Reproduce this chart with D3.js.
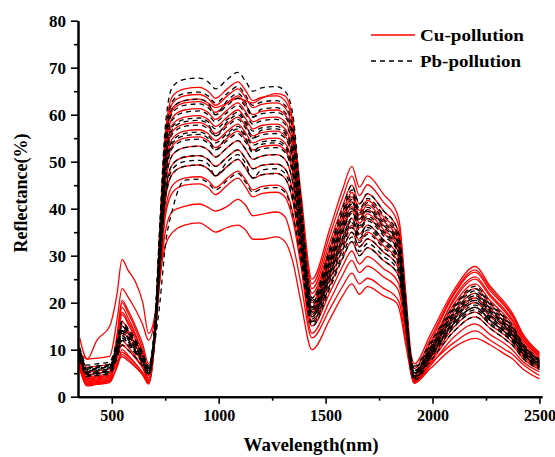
<!DOCTYPE html>
<html><head><meta charset="utf-8">
<script src="https://cdn.jsdelivr.net/npm/d3@7"></script>
<style>
body{margin:0;background:#fff}
svg{display:block}
text{font-family:"Liberation Serif","Times New Roman",serif;font-weight:bold;fill:#000}
</style>
</head><body>
<svg id="chart" width="555" height="457"></svg>
<script>
// Wavelength knots (nm)
const wavelengths = [350,385,430,490,525,548,575,610,645,672,700,725,750,785,840,910,950,985,1040,1090,1125,1160,1200,1270,1310,1345,1385,1436,1520,1580,1623,1658,1696,1770,1833,1845,1875,1900,1915,1990,2100,2200,2270,2340,2375,2420,2500];

// Cu-pollution reflectance spectra (%)
const cuSpectra = [
 [12.5,8,12,15,22,29.2,27,24.5,20,13.5,17,26,32,35,36.5,37,36,35,36,36.5,35.5,33.5,33.5,34,33,29,20,10,16.5,21.5,24,21.8,23.4,21.5,19.9,18.5,11,5,3,6,10.5,12.4,11,9,8,6,3.8],
 [9.5,8,8.2,8.6,16.5,23,21.3,18.6,15.3,12,16,25,35,39.5,40.5,41,40.3,39.5,40.5,42,40.8,38.5,38.8,39.3,38.3,33,24,12.5,18.7,23.5,26.3,24,25.2,23.1,21,20,12,6,3.5,7,11.5,14,12,10,9,7,4.5],
 [8,4.2,4.5,4.9,13.3,20.5,18.5,15.1,11.1,7,12.7,24.8,38.3,43.5,45,45.3,44.5,43,45,46.5,44.7,42.5,43.2,43.5,42.5,38,27.7,13.5,20.5,25.9,29,26.4,27.8,25.5,23.2,22,13.1,4.8,2.8,6.6,12.7,15.5,13.2,11.2,9.9,7.6,5.3],
 [7,3.2,3.5,3.9,12.6,20,17.9,14.4,10.2,6,12.1,25.6,39.5,45,46.5,46.8,46,44.5,46.5,48,46.2,44,44.7,45,44,39.5,29.2,15,22.2,27.8,31,28.2,29.8,27.3,24.8,23.6,14,5,3,7.2,13.9,17,14.5,12.2,10.9,8.3,5.8],
 [6.5,2.9,3.2,3.6,11.9,19,16.9,13.4,9.2,5,11.6,27,41.7,47.5,49,49.3,48.5,47,49,50.5,48.7,46.5,47.2,47.5,46.5,42,30.9,16,23.7,29.6,33,30,31.7,29,26.4,25.1,14.9,5.2,3.2,7.6,14.8,18,15.3,13,11.5,8.8,6.1],
 [7.5,3.7,4,4.4,11.7,18,16.1,13,9.3,5.5,12.3,28.1,43.4,49.5,51,51.3,50.5,49,51,52.5,50.7,48.5,49.2,49.5,48.5,44,32.3,17,25.1,31.4,35,31.9,33.6,30.8,28,26.6,15.8,5.5,3.5,8.2,15.6,19,16.2,13.7,12.2,9.3,6.5],
 [6,2.5,2.8,3.2,10.9,17.5,15.6,12.3,8.4,4.5,11.8,29.2,45.1,51.5,53,53.3,52.5,51,53,54.5,52.7,50.5,51.2,51.5,50.5,46,33.5,17.5,26.1,32.7,36.5,33.2,35,32.1,29.2,27.7,16.4,5,3,8.1,16.4,20,17,14.4,12.8,9.8,6.8],
 [7,3.2,3.5,3.9,10.4,16,14.2,11.2,7.6,4,11.7,30.3,46.8,53.5,55,55.3,54.5,53,55,56.5,54.7,52.5,53.2,53.5,52.5,48,34.7,18,27,34,38,34.6,36.5,33.4,30.4,28.9,17.1,5.5,3.5,8.8,17.2,21,17.9,15.1,13.4,10.3,7.1],
 [8.5,4.7,5,5.4,10.5,15,13.5,11,8,5,12.7,31.1,48,55,56.5,56.8,56,54.5,56.5,58,56.2,54,54.7,55,54,49.5,35.6,18.5,28,35.3,39.5,35.9,37.9,34.8,31.6,30,17.8,6,4,9.4,18,22,18.7,15.8,14.1,10.8,7.5],
 [6.5,2.7,3,3.4,9.1,14,12.4,9.8,6.7,3.5,11.7,31.9,49.3,56.5,58,58.3,57.5,56,58,59.5,57.7,55.5,56.2,56.5,55.5,51,36.6,19,28.7,36.2,40.5,36.9,38.9,35.6,32.4,30.8,18.2,5.2,3.2,9.1,18.9,23,19.6,16.6,14.7,11.3,7.8],
 [7.5,3.5,3.8,4.2,8.3,12,10.7,8.6,6.1,3.5,11.9,32.7,50.6,58,59.5,59.8,59,57.5,59.5,61,59.2,57,57.7,58,57,52.5,37.8,20,29.7,37.2,41.5,37.8,39.8,36.5,33.2,31.5,18.7,5.8,3.8,9.9,19.7,24,20.4,17.3,15.4,11.8,8.2],
 [9,5.2,5.5,5.9,8.5,11,10,8.2,6.1,4,12.6,33.6,51.9,59.5,61,61.3,60.5,59,61,62.5,60.7,58.5,59.2,59.5,58.5,54,39,21,30.7,38.2,42.5,38.7,40.8,37.4,34,32.3,19.1,6.5,4.5,10.7,20.5,25,21.3,18,16,12.3,8.5],
 [6,2.3,2.6,3,6.7,10,8.9,7.1,5,2.8,11.8,34.4,53.1,61,62.5,62.8,62,60.5,62.5,64,62.2,60,60.7,61,60,55.5,40.2,22,31.7,39.2,43.5,39.6,41.8,38.3,34.8,33.1,19.6,5,3,9.8,20.9,25.5,21.7,18.4,16.3,12.5,8.7],
 [8,3.9,4.2,4.6,7.1,9.5,8.6,7,5.1,3.2,12.3,35.2,54.4,62.5,64,64.3,63.5,62,64,65.5,63.7,61.5,62.2,62.5,61.5,57,41.5,23,32.9,40.6,45,41,43.2,39.6,36,34.2,20.3,7,5,11.5,21.7,26.5,22.5,19.1,17,13,9],
 [7,2.7,3,3.4,6.3,9,8.1,6.5,4.6,2.7,11.7,34.7,53.6,61.5,63,63.3,62.5,61.5,62.5,63.5,63,62.5,63.5,64.5,64,59,41.6,24,34.4,42.4,47,42.8,45.1,41.4,37.6,35.7,21.2,8,6,12.3,22.1,27,23,19.4,17.3,13.2,9.2],
 [10,6.2,6.5,6.9,7.6,8.5,7.7,6.3,4.7,3,12.4,36,55.7,64,65.5,65.8,65,63.5,65.5,67,65.2,63,63.7,64,63,58.5,43.2,25,35.8,44.2,49,44.6,47,43.1,39.2,37.2,22,9,7,13.2,22.7,27.7,23.5,19.9,17.7,13.6,9.4]
];

// Pb-pollution reflectance spectra (%)
const pbSpectra = [
 [9,5.2,5.5,5.9,9.1,12,11,9.2,7.1,5,11.2,20,32,40,46,46.3,45.5,44,46,47.5,45.7,43.5,44.2,44.5,43.5,39,29,15,23.1,29.4,33,30,31.7,29,26.4,25.1,14.9,5.5,3.5,7.6,13.9,17,14.5,12.2,10.9,8.3,5.8],
 [10,5.7,6,6.4,10.4,14,12.7,10.6,8.1,5.5,12,27,41.7,47.5,49,49.3,48.5,47,49,50.5,48.7,46.5,47.2,47.5,46.5,42,30.9,16,24.6,31.2,35,31.9,33.6,30.8,28,26.6,15.8,6,4,8.2,14.8,18,15.3,13,11.5,8.8,6.1],
 [9,4.7,5,5.4,9.1,12.5,11.4,9.5,7.3,5,11.8,27.5,42.5,48.5,50,50.3,49.5,47,50,51.5,49.7,46.5,48.2,48.5,47.5,43,31,15.5,23.8,30.3,34,30.9,32.6,29.9,27.2,25.8,15.3,6,4,8.4,15.2,18.5,15.7,13.3,11.8,9.1,6.3],
 [8.5,4.7,5,5.4,9.4,13,11.8,9.7,7.3,4.8,11.7,28.1,43.4,49.5,51,51.3,50.5,49,51,52.5,50.7,48.5,49.2,49.5,48.5,44,32,16.5,25.3,32.1,36,32.8,34.6,31.7,28.8,27.4,16.2,6.2,4.2,8.6,15.6,19,16.2,13.7,12.2,9.3,6.5],
 [9.5,6.2,6.5,6.9,11.2,15,13.7,11.4,8.7,6,13,29.2,45.1,51.5,53,53.3,52.5,51,53,54.5,52.7,50.5,51.2,51.5,50.5,46,33.2,17,26,33,37,33.7,35.5,32.6,29.6,28.1,16.7,6,4,8.7,16,19.5,16.6,14,12.5,9.6,6.6],
 [8,4.2,4.5,4.9,8.1,11,10,8.4,6.5,4.5,12,30,46.3,53,54.5,54.8,54,52.5,54.5,56,54.2,52,52.7,53,52,47.5,34.2,17.5,26.7,33.9,38,34.6,36.5,33.4,30.4,28.9,17.1,6.5,4.5,9.2,16.4,20,17,14.4,12.8,9.8,6.8],
 [10,5.7,6,6.4,10.4,14,12.7,10.6,8.1,5.5,13,30.5,47.2,54,55.5,55.8,55,52.5,55.5,57,55.2,52,53.7,54,53,48.5,34.3,17,26.2,33.4,37.5,34.1,36,33,30,28.5,16.9,7,5,9.2,15.6,19,16.2,13.7,12.2,9.3,6.5],
 [10.5,6.7,7,7.4,12,16,14.6,12.2,9.4,6.5,13.9,30.8,47.6,54.5,56,56.3,55.5,54,56,57.5,55.7,53.5,54.2,54.5,53.5,49,35.1,18,27.5,34.8,39,35.5,37.4,34.3,31.2,29.6,17.6,7,5,9.7,16.8,20.5,17.4,14.8,13.1,10,7],
 [9,4.9,5.2,5.6,10.3,14.5,13.1,10.7,7.9,5,12.9,31.6,48.9,56,57.5,57.8,57,55.5,57.5,59,57.2,55,55.7,56,55,50.5,36.1,18.5,28.2,35.7,40,36.4,38.4,35.2,32,30.4,18,6.8,4.8,9.7,17.2,21,17.9,15.1,13.4,10.3,7.1],
 [8.5,4.7,5,5.4,9.4,13,11.8,9.8,7.4,5,13,32.2,49.7,57,58.5,58.8,58,55.5,58.5,60,58.2,55,56.7,57,56,51.5,36.2,18,27.7,35.2,39.5,35.9,37.9,34.8,31.6,30,17.8,7,5,9.7,16.8,20.5,17.4,14.8,13.1,10,7],
 [8.5,5.5,5.8,6.2,9.5,12.5,11.5,9.7,7.6,5.5,13.5,32.5,50.2,57.5,59,59.3,58.5,57,59,60.5,58.7,56.5,57.2,57.5,56.5,52,37,19,28.9,36.6,41,37.3,39.4,36.1,32.8,31.2,18.5,7.2,5.2,10.1,17.6,21.5,18.3,15.5,13.8,10.5,7.3],
 [9.5,5.9,6.2,6.6,11.3,15.5,14.1,11.7,8.9,6,14.2,33.3,51.4,59,60.5,60.8,60,58.5,60.5,62,60.2,58,58.7,59,58,53.5,38,19.5,29.6,37.5,42,38.2,40.3,37,33.6,31.9,18.9,7.5,5.5,10.5,18,22,18.7,15.8,14.1,10.8,7.5],
 [8,4.5,4.8,5.2,9.6,13.5,12.2,10.1,7.6,5,13.6,34.1,52.7,60.5,62,62.3,61.5,60,62,63.5,61.7,59.5,60.2,60.5,59.5,55,38.9,20,30.4,38.4,43,39.1,41.3,37.8,34.4,32.7,19.4,7,5,10.3,18.5,22.5,19.1,16.2,14.4,11,7.7],
 [9.5,6.2,6.5,6.9,11.7,16,14.5,12.1,9.1,6.2,14.7,34.7,53.6,61.5,63,63.3,62.5,60,63,64.5,62.7,59.5,61.2,61.5,60.5,56,38.8,19,29.1,37,41.5,37.8,39.8,36.5,33.2,31.5,18.7,7.5,5.5,10.3,17.6,21.5,18.3,15.5,13.8,10.5,7.3],
 [9,5.2,5.5,5.9,10.2,14,12.7,10.5,7.8,5.2,14.1,35.5,54.8,63,64.5,64.8,64,62.5,64.5,66,64.2,62,62.7,63,62,57.5,40.3,20.5,31.1,39.3,44,40,42.2,38.7,35.2,33.4,19.8,8,6,11.1,18.9,23,19.6,16.6,14.7,11.3,7.8],
 [10,5.7,6,6.4,11,15,13.7,11.4,8.7,6,15.2,37.1,57.4,66,67.5,67.8,67,65.5,67.5,69,67.2,65,65.7,66,65,60.5,41.9,21,31.8,40.2,45,41,43.2,39.6,36,34.2,20.3,8.5,6.5,11.6,19.3,23.5,20,16.9,15,11.5,8]
];

const yTicks = [0,10,20,30,40,50,60,70,80];
const yMinorTicks = [5,15,25,35,45,55,65,75];
const xTicks = [500,1000,1500,2000,2500];
const xMinorTicks = [750,1250,1750,2250];
const legendLabels = ["Cu-pollution","Pb-pollution"];
const seriesColors = ["#ff0000","#000000"];

const svg = d3.select("#chart");
const x = d3.scaleLinear().domain([342,2512]).range([78,542]);
const y = d3.scaleLinear().domain([0,80]).range([396.7,20.7]);

const line = d3.line()
  .x((d,i)=>x(wavelengths[i]))
  .y(d=>y(d))
  .curve(d3.curveMonotoneX);

const plot = svg.append("g");
plot.selectAll("path.cu").data(cuSpectra).enter().append("path")
  .attr("class","cu").attr("d",line)
  .attr("fill","none").attr("stroke",seriesColors[0]).attr("stroke-width",1.3);
plot.selectAll("path.pb").data(pbSpectra).enter().append("path")
  .attr("class","pb").attr("d",line)
  .attr("fill","none").attr("stroke",seriesColors[1]).attr("stroke-width",1.3)
  .attr("stroke-dasharray","5,4");

// Axes
const y0 = y(0);
const xAxisMinor = svg.append("g").attr("transform",`translate(0,${y0})`)
  .call(d3.axisBottom(x).tickValues(xMinorTicks).tickSize(4).tickSizeOuter(0).tickFormat(""));
const xAxis = svg.append("g").attr("transform",`translate(0,${y0})`)
  .call(d3.axisBottom(x).tickValues(xTicks).tickSize(7).tickSizeOuter(0).tickPadding(6).tickFormat(d3.format("d")));
const yAxisMinor = svg.append("g").attr("transform",`translate(${x(342)},0)`)
  .call(d3.axisLeft(y).tickValues(yMinorTicks).tickSize(4).tickSizeOuter(0).tickFormat(""));
const yAxis = svg.append("g").attr("transform",`translate(${x(342)},0)`)
  .call(d3.axisLeft(y).tickValues(yTicks).tickSize(7).tickSizeOuter(0).tickPadding(5));

[xAxis,yAxis,xAxisMinor,yAxisMinor].forEach(g=>{
  g.select(".domain").attr("stroke","#000").attr("stroke-width",2);
  g.selectAll(".tick line").attr("stroke","#000").attr("stroke-width",1.6);
  g.selectAll(".tick text").style("font-family","'Liberation Serif','Times New Roman',serif")
    .style("font-weight","bold").style("font-size","16px").attr("fill","#000");
});
yAxis.selectAll(".tick text").style("font-size","17px");

// Axis titles
svg.append("text").attr("x",311).attr("y",451).attr("text-anchor","middle")
  .style("font-size","19px").text("Wavelength(nm)");
svg.append("text").attr("transform","translate(27,193) rotate(-90)").attr("text-anchor","middle")
  .style("font-size","18px").text("Reflectance(%)");

// Legend
const legendWidths = [104,101];
const legend = svg.append("g");
legendLabels.forEach((lab,i)=>{
  const ly = 35 + i*26;
  legend.append("line").attr("x1",371).attr("x2",415).attr("y1",ly).attr("y2",ly)
    .attr("stroke",seriesColors[i]).attr("stroke-width",1.3)
    .attr("stroke-dasharray", i===1 ? "5,4" : null);
  legend.append("text").attr("x",420).attr("y",ly+6).style("font-size","17px")
    .attr("textLength",legendWidths[i]).attr("lengthAdjust","spacingAndGlyphs").text(lab);
});
</script>
</body></html>
